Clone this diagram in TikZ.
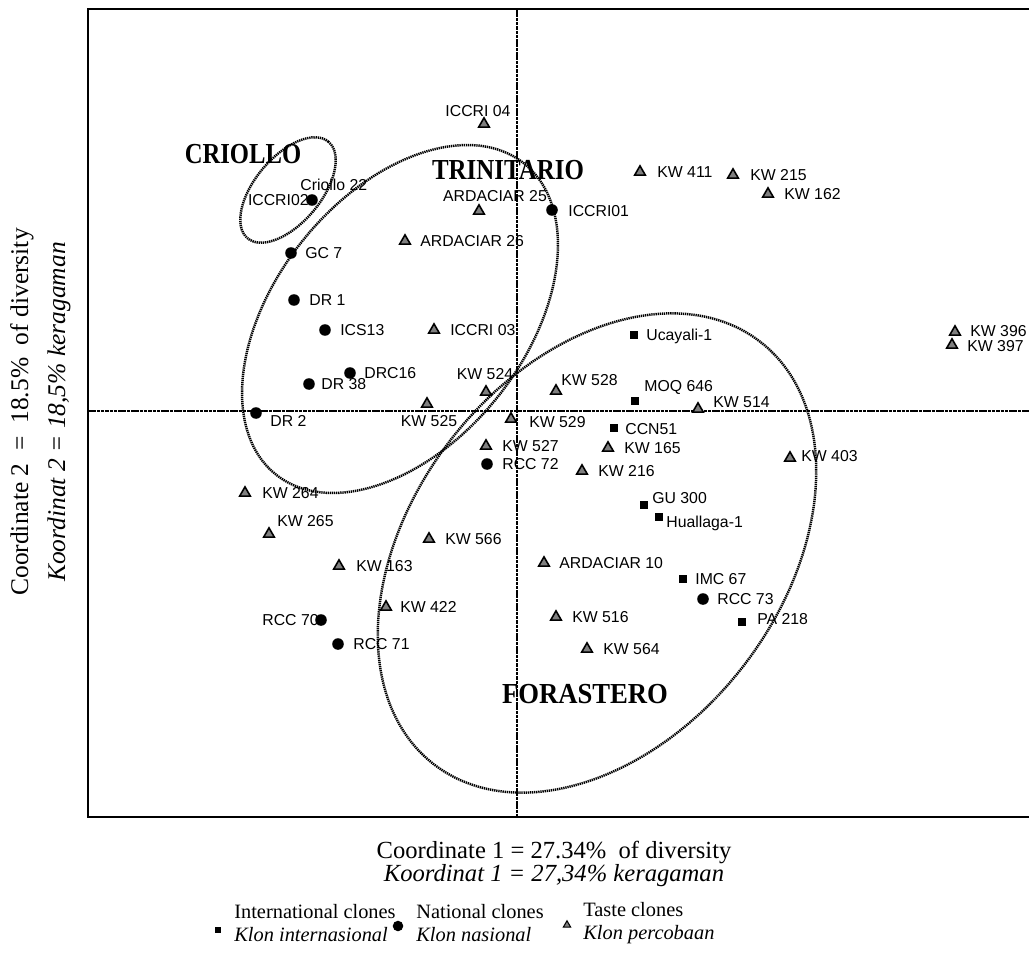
\documentclass[tikz,border=0pt]{standalone}
\usepackage{fontspec}
\setmainfont{Liberation Serif}
\newfontfamily\labfont{Liberation Sans}
\usetikzlibrary{shapes.geometric}
\begin{document}
\begin{tikzpicture}[x=0.02cm,y=-0.02cm,
  frame/.style={line width=1.3pt},
  axisline/.style={line width=1.3pt, dash pattern=on 2pt off 0.45pt},
  grp/.style={line width=1.4pt, dash pattern=on 0.75pt off 0.45pt},
  tri/.style={regular polygon, regular polygon sides=3, draw=black, fill=gray, line width=0.9pt, minimum size=7pt, inner sep=0pt},
  nat/.style={circle, fill=black, minimum size=6.6pt, inner sep=0pt},
  intl/.style={rectangle, fill=black, minimum size=4pt, inner sep=0pt},
  lab/.style={font=\labfont\fontsize{9}{10}\selectfont, inner sep=0pt, anchor=west, text height=6.5pt, text depth=0pt},
  grpname/.style={font=\fontsize{16.5}{16.5}\selectfont\bfseries, inner sep=0pt},
  ttl/.style={font=\fontsize{14}{16}\selectfont, inner sep=0pt},
  leg/.style={font=\fontsize{11.6}{13.4}\selectfont, inner sep=0pt, anchor=west, align=left}
]
\useasboundingbox (0,0) rectangle (1029,960);
% frame
\coordinate (tl) at (88,9); \coordinate (tr) at (1029,9);
\coordinate (bl) at (88,817); \coordinate (br) at (1029,817);
\draw[frame] (tr) -- (tl) -- (bl) -- (br);
% axes
\coordinate (vt) at (517,9); \coordinate (vb) at (517,817);
\coordinate (hl) at (88,411); \coordinate (hr) at (1029,411);
\draw[axisline] (vt) -- (vb);
\draw[axisline] (hl) -- (hr);
% group ellipses
\draw[grp, rotate around={50:(288,190)}] (288,190) ellipse [x radius=1.26cm, y radius=0.66cm];
\draw[grp, rotate around={51.4:(400,319)}] (400,319) ellipse [x radius=3.98cm, y radius=2.5cm];
\draw[grp, rotate around={52.3:(597,553)}] (597,553) ellipse [x radius=5.34cm, y radius=3.7cm];
% group names
\node[grpname] (criollo) at (243,154) {\scalebox{0.85}[1]{CRIOLLO}};
\node[grpname] (trinitario) at (508,170) {\scalebox{0.86}[1]{TRINITARIO}};
\node[grpname] (forastero) at (585,694) {\scalebox{0.92}[1]{FORASTERO}};
% national clones
\node[nat] (p1) at (312,200) {}; \node[lab] (l1a) at (300,185) {Criollo 22};
\node[lab, anchor=east] (l1b) at (309,200) {ICCRI02};
\node[nat] (p2) at (291,253) {}; \node[lab] (l2) at (305,253) {GC 7};
\node[nat] (p3) at (294,300) {}; \node[lab] (l3) at (309,300) {DR 1};
\node[nat] (p4) at (325,330) {}; \node[lab] (l4) at (340,330) {ICS13};
\node[nat] (p5) at (350,373) {}; \node[lab] (l5) at (364,373) {DRC16};
\node[nat] (p6) at (309,384) {}; \node[lab] (l6) at (321,384) {DR 38};
\node[nat] (p7) at (256,413) {}; \node[lab] (l7) at (270,421) {DR 2};
\node[nat] (p8) at (552,210) {}; \node[lab] (l8) at (568,211) {ICCRI01};
\node[nat] (p9) at (487,464) {}; \node[lab] (l9) at (502,464) {RCC 72};
\node[nat] (p10) at (321,620) {}; \node[lab, anchor=east] (l10) at (319,620) {RCC 70};
\node[nat] (p11) at (338,644) {}; \node[lab] (l11) at (353,644) {RCC 71};
\node[nat] (p12) at (703,599) {}; \node[lab] (l12) at (717,599) {RCC 73};
% taste clones
\node[tri] (t1) at (484,124) {}; \node[lab, anchor=center] (m1) at (478,111) {ICCRI 04};
\node[tri] (t2) at (640,172) {}; \node[lab] (m2) at (657,172) {KW 411};
\node[tri] (t3) at (479,211) {}; \node[lab, anchor=center] (m3) at (495,196) {ARDACIAR 25};
\node[tri] (t4) at (405,241) {}; \node[lab] (m4) at (420,241) {ARDACIAR 26};
\node[tri] (t5) at (733,175) {}; \node[lab] (m5) at (750,175) {KW 215};
\node[tri] (t6) at (768,194) {}; \node[lab] (m6) at (784,194) {KW 162};
\node[tri] (t7) at (434,330) {}; \node[lab] (m7) at (450,330) {ICCRI 03};
\node[tri] (t8) at (955,332) {}; \node[lab] (m8) at (970,331) {KW 396};
\node[tri] (t9) at (952,345) {}; \node[lab] (m9) at (967,346) {KW 397};
\node[tri] (t10) at (486,392) {}; \node[lab, anchor=center] (m10) at (485,374) {KW 524};
\node[tri] (t11) at (556,391) {}; \node[lab] (m11) at (561,380) {KW 528};
\node[tri] (t12) at (427,404) {}; \node[lab, anchor=center] (m12) at (429,421) {KW 525};
\node[tri] (t13) at (698,409) {}; \node[lab] (m13) at (713,402) {KW 514};
\node[tri] (t14) at (511,419) {}; \node[lab] (m14) at (529,422) {KW 529};
\node[tri] (t15) at (486,446) {}; \node[lab] (m15) at (502,446) {KW 527};
\node[tri] (t16) at (608,448) {}; \node[lab] (m16) at (624,448) {KW 165};
\node[tri] (t17) at (582,471) {}; \node[lab] (m17) at (598,471) {KW 216};
\node[tri] (t18) at (790,458) {}; \node[lab] (m18) at (801,456) {KW 403};
\node[tri] (t19) at (245,493) {}; \node[lab] (m19) at (262,493) {KW 264};
\node[tri] (t20) at (269,534) {}; \node[lab] (m20) at (277,521) {KW 265};
\node[tri] (t21) at (429,539) {}; \node[lab] (m21) at (445,539) {KW 566};
\node[tri] (t22) at (544,563) {}; \node[lab] (m22) at (559,563) {ARDACIAR 10};
\node[tri] (t23) at (339,566) {}; \node[lab] (m23) at (356,566) {KW 163};
\node[tri] (t24) at (386,607) {}; \node[lab] (m24) at (400,607) {KW 422};
\node[tri] (t25) at (556,617) {}; \node[lab] (m25) at (572,617) {KW 516};
\node[tri] (t26) at (587,649) {}; \node[lab] (m26) at (603,649) {KW 564};
% international clones
\node[intl] (s1) at (634,335) {}; \node[lab] (n1) at (646,335) {Ucayali-1};
\node[intl] (s2) at (635,401) {}; \node[lab] (n2) at (644,386) {MOQ 646};
\node[intl] (s3) at (614,428) {}; \node[lab] (n3) at (625,429) {CCN51};
\node[intl] (s4) at (644,505) {}; \node[lab] (n4) at (652,498) {GU 300};
\node[intl] (s5) at (659,517) {}; \node[lab] (n5) at (666,522) {Huallaga-1};
\node[intl] (s6) at (683,579) {}; \node[lab] (n6) at (695,579) {IMC 67};
\node[intl] (s7) at (742,622) {}; \node[lab] (n7) at (757,619) {PA 218};
% axis titles
\node[ttl] (xt1) at (554,852) {Coordinate 1 = 27.34\%\ \ of diversity};
\node[ttl] (xt2) at (554,876) {\itshape Koordinat 1 = 27,34\% keragaman};
\node[ttl, font=\fontsize{14.5}{16}\selectfont, rotate=90] (yt1) at (22,412) {Coordinate 2 \ = \ 18.5\%\ \ of diversity};
\node[ttl, font=\fontsize{14.5}{16}\selectfont, rotate=90] (yt2) at (59,412) {\itshape Koordinat 2 = 18,5\% keragaman};
% legend
\node[intl, minimum size=3.8pt] (lg1) at (218,930) {};
\node[leg] (lt1) at (234,923) {International clones\\\itshape Klon internasional};
\node[nat, minimum size=6pt] (lg2) at (398,926) {};
\node[leg] (lt2) at (416,923) {National clones\\\itshape Klon nasional};
\node[tri, minimum size=4.8pt, line width=0.6pt] (lg3) at (567,925) {};
\node[leg] (lt3) at (583,923) {Taste clones\\\itshape Klon percobaan};
\end{tikzpicture}
\end{document}
